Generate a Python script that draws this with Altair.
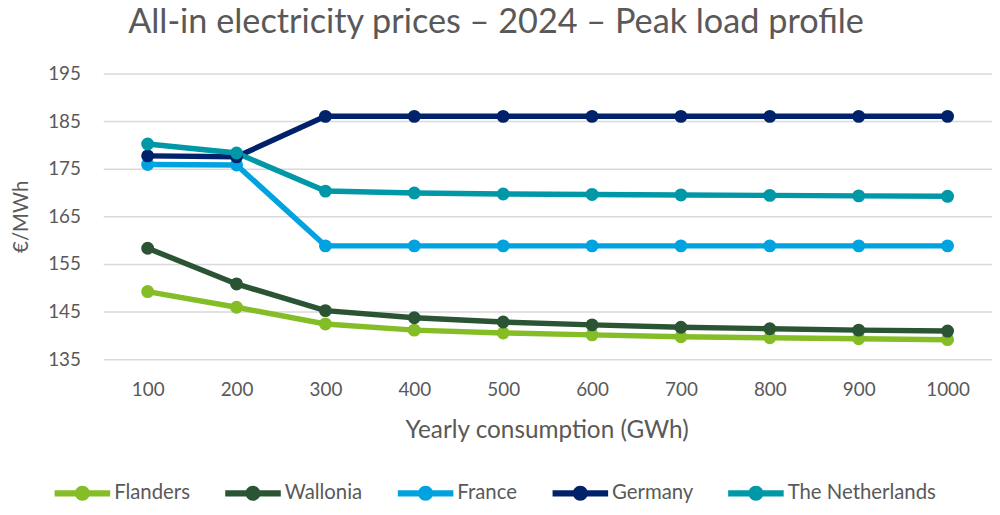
import altair as alt
import pandas as pd

consumption = ["100", "200", "300", "400", "500", "600", "700", "800", "900", "1000"]
series = ["Flanders", "Wallonia", "France", "Germany", "The Netherlands"]
colors = ["#84BD26", "#2B5434", "#00A3E0", "#00226A", "#0098A6"]

flanders = [149.2, 145.9, 142.4, 141.1, 140.5, 140.1, 139.7, 139.5, 139.3, 139.1]
wallonia = [158.3, 150.8, 145.2, 143.7, 142.8, 142.2, 141.7, 141.4, 141.1, 140.9]
france = [175.9, 175.8, 158.8, 158.8, 158.8, 158.8, 158.8, 158.8, 158.8, 158.8]
germany = [177.7, 177.5, 186.0, 186.0, 186.0, 186.0, 186.0, 186.0, 186.0, 186.0]
netherlands = [180.2, 178.3, 170.3, 169.9, 169.7, 169.6, 169.5, 169.4, 169.3, 169.2]

values = [flanders, wallonia, france, germany, netherlands]
rows = []
for i, (s, vals) in enumerate(zip(series, values)):
    for c, v in zip(consumption, vals):
        rows.append({"consumption": c, "series": s, "price": v, "series_order": i})
df = pd.DataFrame(rows)

FONT = "Lato"
GREY = "#595959"

legend_path = ("M-1,-0.11L1,-0.11L1,0.11L-1,0.11Z"
               "M0.27,0A0.27,0.27,0,1,1,-0.27,0A0.27,0.27,0,1,1,0.27,0Z")

x = alt.X("consumption:N", sort=consumption,
          scale=alt.Scale(type="point", padding=0.5),
          axis=alt.Axis(title="Yearly consumption (GWh)", domain=False, ticks=False,
                        labelAngle=0, labelPadding=31, labelBaseline="middle",
                        labelFontSize=19, labelColor=GREY, labelFont=FONT,
                        titleFontSize=24.5, titleColor=GREY, titleFont=FONT,
                        titleFontWeight="normal", titleX=447, titleY=72,
                        titleBaseline="middle"))
y = alt.Y("price:Q",
          scale=alt.Scale(domain=[135, 195], nice=False, zero=False),
          axis=alt.Axis(title="€/MWh", values=[135, 145, 155, 165, 175, 185, 195],
                        domain=False, ticks=False, grid=True, gridColor="#D9D9D9",
                        gridWidth=1.5, labelPadding=23, labelFontSize=19,
                        labelColor=GREY, labelFont=FONT,
                        titleFontSize=20.5, titleColor=GREY, titleFont=FONT,
                        titleFontWeight="normal", titleX=-82, titleY=144,
                        titleAngle=-90, titleAlign="center", titleBaseline="middle"))
color = alt.Color("series:N", sort=series,
                  scale=alt.Scale(domain=series, range=colors),
                  legend=alt.Legend(title=None, orient="none", direction="horizontal",
                                    legendX=-49, legendY=395,
                                    symbolType=legend_path, symbolSize=3136,
                                    symbolStrokeWidth=0, labelOffset=4,
                                    columnPadding=35, labelFontSize=20.5,
                                    labelColor=GREY, labelFont=FONT,
                                    labelLimit=300))

lines = alt.Chart(df).mark_line(strokeWidth=5.5).encode(x=x, y=y, color=color)
points = alt.Chart(df).mark_point(filled=True, size=170, opacity=1).encode(
    x=x, y=y, color=color, order=alt.Order("series_order:Q"))

chart = alt.layer(lines, points).properties(
    width=896, height=288,
    autosize=alt.AutoSizeParams(type="none"),
    padding={"left": 96, "top": 64, "right": 0, "bottom": 147},
    title=alt.TitleParams("All-in electricity prices – 2024 – Peak load profile",
                          fontSize=34.5, color=GREY, font=FONT, fontWeight="normal",
                          anchor="middle", dx=-52, offset=24),
).configure_view(stroke=None)

chart.save("out.html", embed_options={"renderer": "svg", "actions": False})
